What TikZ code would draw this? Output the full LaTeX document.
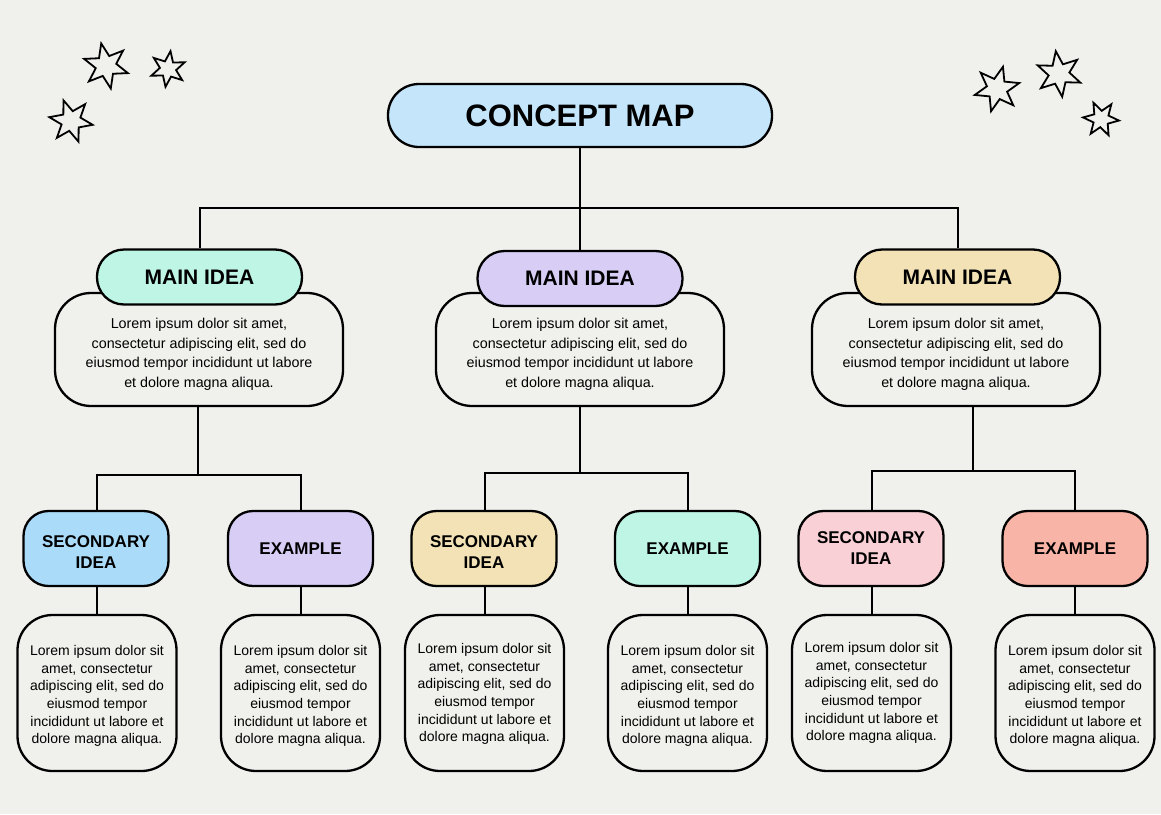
\documentclass[tikz,border=0pt]{standalone}
\usepackage{fontspec}
\setmainfont{Liberation Sans}
\usetikzlibrary{shapes,positioning}
\usepackage{xcolor}

\definecolor{paper}{RGB}{240,240,236}
\definecolor{titleblue}{RGB}{197,230,250}
\definecolor{mint}{RGB}{190,245,228}
\definecolor{lavender}{RGB}{215,205,245}
\definecolor{wheat}{RGB}{242,226,182}
\definecolor{skyblue}{RGB}{170,220,250}
\definecolor{rose}{RGB}{248,208,214}
\definecolor{salmon}{RGB}{248,180,166}

\tikzset{
    link/.style={draw, line width=2pt},
    titlebox/.style={draw, line width=2.3pt, fill=titleblue, rounded corners=31pt,
        minimum width=384pt, minimum height=63pt,
        font=\bfseries\fontsize{31}{36}\selectfont},
    ideabox/.style={draw, line width=2.3pt, rounded corners=27pt,
        minimum width=205pt, minimum height=55pt,
        font=\bfseries\fontsize{21}{25}\selectfont},
    descbox/.style={draw, line width=2.3pt, fill=paper, rounded corners=36pt,
        minimum width=288pt, minimum height=113pt},
    desctext/.style={align=center, inner sep=0pt,
        font=\fontsize{14.3}{19.5}\selectfont},
    subbox/.style={draw, line width=2.3pt, rounded corners=25pt,
        minimum width=145pt, minimum height=75pt,
        font=\bfseries\fontsize{17}{21}\selectfont},
    subtext/.style={align=center, inner sep=0pt,
        font=\bfseries\fontsize{17}{21}\selectfont},
    notebox/.style={draw, line width=2.3pt, fill=paper, rounded corners=35pt,
        minimum width=159pt, minimum height=156pt},
    notetext/.style={align=center, inner sep=0pt,
        font=\fontsize{14}{17.7}\selectfont},
    starmark/.style={draw, line width=1.8pt, star, star points=6,
        star point ratio=2.2, inner sep=0pt}
}

\begin{document}
\begin{tikzpicture}[x=1pt,y=-1pt]
    \fill[paper] (0,0) rectangle (1161,814);
    \useasboundingbox (0,0) rectangle (1161,814);

    % stars
    \node (star_a) [starmark, minimum size=46pt, rotate=12] at (106,66) {};
    \node (star_b) [starmark, minimum size=36pt, rotate=-8] at (168,69) {};
    \node (star_c) [starmark, minimum size=44pt, rotate=20] at (71,121) {};
    \node (star_d) [starmark, minimum size=46pt, rotate=-15] at (997,89) {};
    \node (star_e) [starmark, minimum size=46pt, rotate=8] at (1059,74) {};
    \node (star_f) [starmark, minimum size=36pt, rotate=25] at (1101,119) {};

    % title
    \node (concept) [titlebox] at (580,115.5) {CONCEPT MAP};

    % main ideas
    \node (desc_left) [descbox] at (199,349.5) {};
    \node (desc_left_text) [desctext] at ([yshift=-5pt]desc_left.center) {Lorem ipsum dolor sit amet,\\consectetur adipiscing elit, sed do\\eiusmod tempor incididunt ut labore\\et dolore magna aliqua.};
    \node (main_left) [ideabox, fill=mint] at (199.5,277) {MAIN IDEA};
    \node (desc_mid) [descbox] at (580,349.5) {};
    \node (desc_mid_text) [desctext] at ([yshift=-5pt]desc_mid.center) {Lorem ipsum dolor sit amet,\\consectetur adipiscing elit, sed do\\eiusmod tempor incididunt ut labore\\et dolore magna aliqua.};
    \node (main_mid) [ideabox, fill=lavender] at (580,278.5) {MAIN IDEA};
    \node (desc_right) [descbox] at (956,349.5) {};
    \node (desc_right_text) [desctext] at ([yshift=-5pt]desc_right.center) {Lorem ipsum dolor sit amet,\\consectetur adipiscing elit, sed do\\eiusmod tempor incididunt ut labore\\et dolore magna aliqua.};
    \node (main_right) [ideabox, fill=wheat] at (957.5,277) {MAIN IDEA};

    % secondary ideas and examples
    \node (sec_left) [subbox, fill=skyblue] at (96,548.5) {};
    \node (sec_left_text) [subtext] at ([yshift=-4pt]sec_left.center) {SECONDARY\\IDEA};
    \node (ex_left) [subbox, fill=lavender] at (300.5,548.5) {EXAMPLE};
    \node (sec_mid) [subbox, fill=wheat] at (484,548.5) {};
    \node (sec_mid_text) [subtext] at ([yshift=-4pt]sec_mid.center) {SECONDARY\\IDEA};
    \node (ex_mid) [subbox, fill=mint] at (687.5,548.5) {EXAMPLE};
    \node (sec_right) [subbox, fill=rose] at (871,548.5) {};
    \node (sec_right_text) [subtext] at ([yshift=0pt]sec_right.center) {SECONDARY\\IDEA};
    \node (ex_right) [subbox, fill=salmon] at (1075,548.5) {EXAMPLE};

    % notes
    \node (note_sec_left) [notebox] at (97,693) {};
    \node (note_sec_left_text) [notetext] at ([yshift=-3pt]note_sec_left.center) {Lorem ipsum dolor sit\\amet, consectetur\\adipiscing elit, sed do\\eiusmod tempor\\incididunt ut labore et\\dolore magna aliqua.};
    \node (note_ex_left) [notebox] at (300.5,693) {};
    \node (note_ex_left_text) [notetext] at ([yshift=-3pt]note_ex_left.center) {Lorem ipsum dolor sit\\amet, consectetur\\adipiscing elit, sed do\\eiusmod tempor\\incididunt ut labore et\\dolore magna aliqua.};
    \node (note_sec_mid) [notebox] at (484.5,693) {};
    \node (note_sec_mid_text) [notetext] at ([yshift=-1pt]note_sec_mid.center) {Lorem ipsum dolor sit\\amet, consectetur\\adipiscing elit, sed do\\eiusmod tempor\\incididunt ut labore et\\dolore magna aliqua.};
    \node (note_ex_mid) [notebox] at (687.5,693) {};
    \node (note_ex_mid_text) [notetext] at ([yshift=-3pt]note_ex_mid.center) {Lorem ipsum dolor sit\\amet, consectetur\\adipiscing elit, sed do\\eiusmod tempor\\incididunt ut labore et\\dolore magna aliqua.};
    \node (note_sec_right) [notebox] at (871.5,693) {};
    \node (note_sec_right_text) [notetext] at ([yshift=0pt]note_sec_right.center) {Lorem ipsum dolor sit\\amet, consectetur\\adipiscing elit, sed do\\eiusmod tempor\\incididunt ut labore et\\dolore magna aliqua.};
    \node (note_ex_right) [notebox] at (1075,693) {};
    \node (note_ex_right_text) [notetext] at ([yshift=-3pt]note_ex_right.center) {Lorem ipsum dolor sit\\amet, consectetur\\adipiscing elit, sed do\\eiusmod tempor\\incididunt ut labore et\\dolore magna aliqua.};

    % top connectors
    \coordinate (bus) at (580,208);
    \draw[link] (concept) -- (concept |- bus);
    \draw[link] (main_left) -- (main_left |- bus) -- (main_right |- bus) -- (main_right);
    \draw[link] (main_mid) -- (main_mid |- bus);

    % lower connectors
    \coordinate (fork_left) at (198,475);
    \coordinate (fork_mid) at (580,473);
    \coordinate (fork_right) at (973,471);
    \draw[link] (desc_left.south -| fork_left) -- (fork_left);
    \draw[link] (note_sec_left |- sec_left.north) -- (note_sec_left |- fork_left) -- (ex_left |- fork_left) -- (ex_left);
    \draw[link] (desc_mid.south -| fork_mid) -- (fork_mid);
    \draw[link] (note_sec_mid |- sec_mid.north) -- (note_sec_mid |- fork_mid) -- (ex_mid |- fork_mid) -- (ex_mid);
    \draw[link] (desc_right.south -| fork_right) -- (fork_right);
    \draw[link] (note_sec_right |- sec_right.north) -- (note_sec_right |- fork_right) -- (ex_right |- fork_right) -- (ex_right);

    \draw[link] (note_sec_left |- sec_left.south) -- (note_sec_left);
    \draw[link] (ex_left) -- (note_ex_left);
    \draw[link] (note_sec_mid |- sec_mid.south) -- (note_sec_mid);
    \draw[link] (ex_mid) -- (note_ex_mid);
    \draw[link] (note_sec_right |- sec_right.south) -- (note_sec_right);
    \draw[link] (ex_right) -- (note_ex_right);
\end{tikzpicture}
\end{document}
